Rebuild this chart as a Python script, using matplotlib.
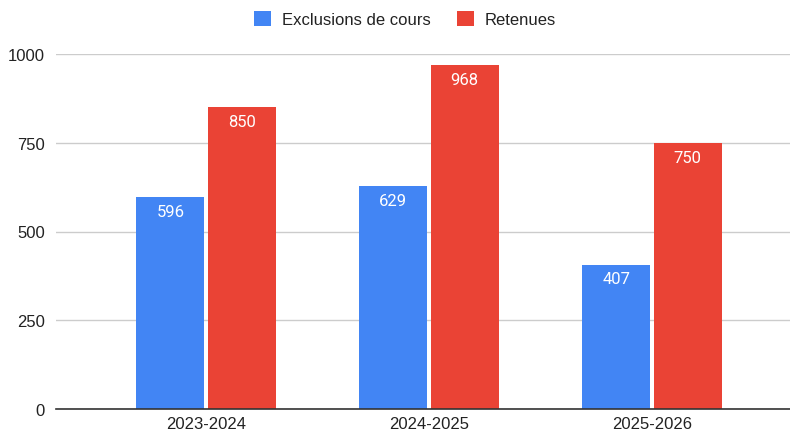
import matplotlib
matplotlib.use("Agg")
import matplotlib.pyplot as plt
import numpy as np
from matplotlib.patches import Patch

categories = ["2023-2024", "2024-2025", "2025-2026"]
series_names = ["Exclusions de cours", "Retenues"]
exclusions = [596, 629, 407]
retenues = [850, 968, 750]
yticks = [0, 250, 500, 750, 1000]

colors = ["#4285F4", "#EA4335"]

plt.rcParams['font.family'] = ['Liberation Sans', 'DejaVu Sans']

fig = plt.figure(figsize=(7.9, 4.35), dpi=100)
W, H = 790, 435
left_px, right_px, top_px, bottom_px = 56, 790, 55, 410
ax = fig.add_axes([left_px / W, 1 - bottom_px / H, (right_px - left_px) / W, (bottom_px - top_px) / H])

x = np.arange(len(categories))
width = 0.305
offset = 0.16
for vals, off, col in [(exclusions, -offset, colors[0]), (retenues, offset, colors[1])]:
    bars = ax.bar(x + off, vals, width=width, color=col, zorder=3)
    for b, v in zip(bars, vals):
        ax.annotate(str(v), (b.get_x() + b.get_width() / 2, v), xytext=(0, -5),
                    textcoords="offset points", ha="center", va="top",
                    color="white", fontsize=12, family=["Roboto", "DejaVu Sans"], zorder=4)

ax.set_xlim((56 - 206) / 223, (790 - 206) / 223)
ax.set_ylim(0, 1000)
ax.set_yticks(yticks)
ax.set_yticklabels([str(t) for t in yticks], fontsize=12, color="#222222")
ax.set_xticks(x)
ax.set_xticklabels(categories, fontsize=12, color="#222222")
ax.tick_params(axis="both", length=0)
ax.tick_params(axis="y", pad=8)
ax.tick_params(axis="x", pad=5)
ax.grid(axis="y", color="#cccccc", linewidth=1, zorder=0)
for s in ["top", "right", "left"]:
    ax.spines[s].set_visible(False)
ax.spines["bottom"].set_color("#333333")
ax.spines["bottom"].set_linewidth(1.2)
ax.spines["bottom"].set_zorder(5)

handles = [Patch(facecolor=c, edgecolor="none") for c in colors]
fig.legend(handles, series_names, loc="center", bbox_to_anchor=(0.513, 1 - 20 / H),
           ncol=2, frameon=False, fontsize=12, handlelength=1.0, handleheight=1.0,
           handletextpad=0.65, columnspacing=1.6, labelcolor="#222222")

fig.savefig("out.png", dpi=100)
